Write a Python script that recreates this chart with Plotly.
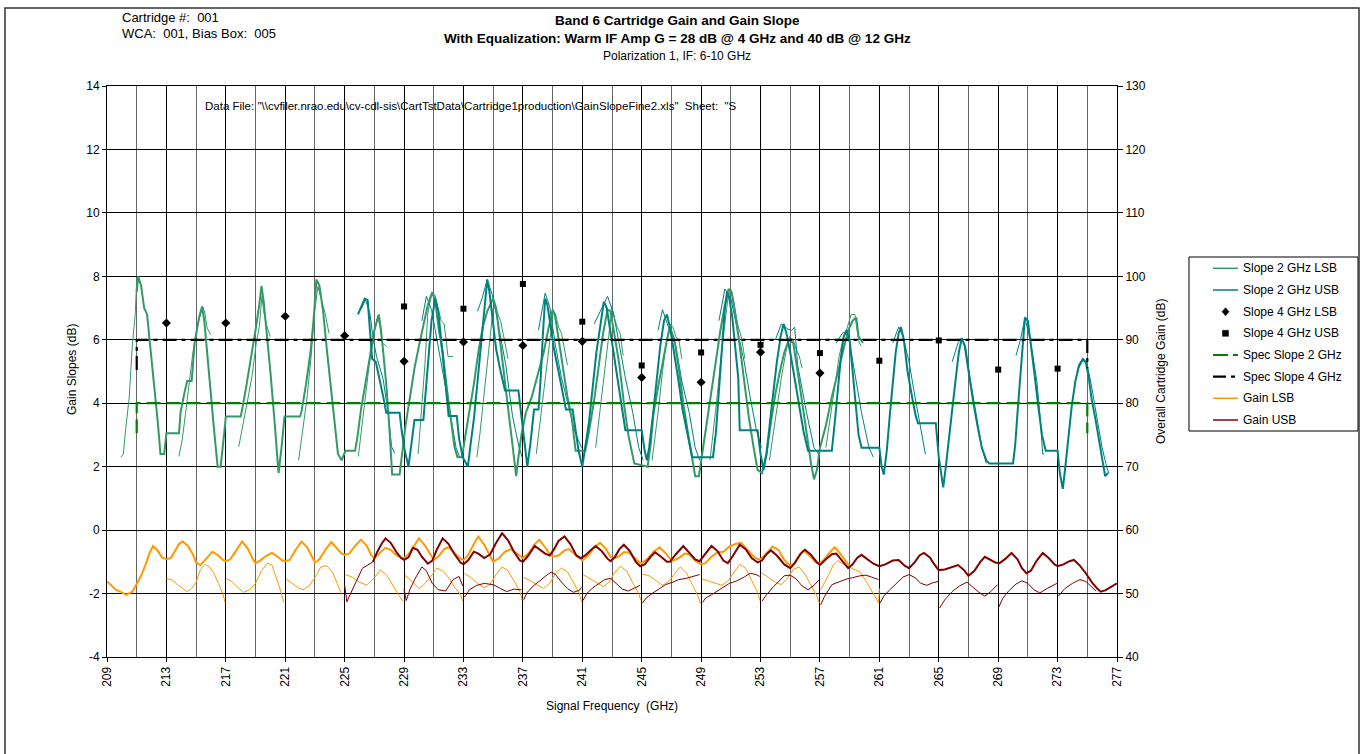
import plotly.graph_objects as go

# ------------------------------------------------------------------
# Axis ticks
# ------------------------------------------------------------------
FREQ_TICKS = list(range(209, 278, 4))
SLOPE_TICKS = list(range(-4, 15, 2))
GAIN_TICKS = list(range(40, 131, 10))

# ------------------------------------------------------------------
# Slope over 4 GHz windows (dB), one value per LO setting
# ------------------------------------------------------------------
SLOPE4_LSB_FREQ = [213, 217, 221, 225, 229, 233, 237, 241, 245, 249, 253, 257]
SLOPE4_LSB = [6.53, 6.53, 6.74, 6.13, 5.32, 5.93, 5.82, 5.95, 4.81, 4.66, 5.61, 4.95]
SLOPE4_USB_FREQ = [229, 233, 237, 241, 245, 249, 253, 257, 261, 265, 269, 273]
SLOPE4_USB = [7.05, 6.98, 7.76, 6.57, 5.19, 5.60, 5.84, 5.58, 5.34, 5.98, 5.06, 5.09]

# Spec limits
SPEC2_FREQ = [211, 211, 275, 275]
SPEC2 = [3.05, 4.0, 4.0, 3.05]
SPEC4_FREQ = [211, 211, 275, 275]
SPEC4 = [5.05, 6.0, 6.0, 5.1]

# ------------------------------------------------------------------
# Slope over 2 GHz windows (dB): (frequency GHz, slope dB)
# ------------------------------------------------------------------
SLOPE2_LSB_MAIN = [[
    (211.0, 7.5), (211.1, 8.0), (211.3, 7.7), (211.5, 7.0), (211.7, 6.8), (211.85, 6.0), (212.1, 4.9),
    (212.4, 3.5), (212.6, 2.4), (212.85, 2.4), (213.0, 3.05), (213.85, 3.05), (213.95, 3.7), (214.2, 4.3),
    (214.4, 4.7), (214.7, 4.7), (214.9, 5.9), (215.2, 6.7), (215.4, 7.05), (215.55, 6.6), (215.8, 5.2),
    (216.0, 4.2), (216.2, 3.2), (216.45, 2.0), (216.65, 2.0), (216.9, 3.1), (217.0, 3.58), (218.0, 3.58),
    (218.1, 3.8), (218.4, 4.6), (218.7, 5.4), (219.0, 6.3), (219.25, 7.1), (219.4, 7.7), (219.55, 7.2),
    (219.8, 6.1), (220.0, 5.0), (220.25, 3.6), (220.45, 2.2), (220.55, 1.8), (220.75, 2.6), (220.95, 3.58),
    (222.0, 3.58), (222.1, 3.75), (222.4, 4.6), (222.7, 5.6), (222.9, 6.6), (223.1, 7.9), (223.3, 7.7),
    (223.55, 6.9), (223.8, 5.7), (224.05, 4.6), (224.3, 3.4), (224.55, 2.4), (224.8, 2.2), (225.05, 2.5),
    (225.7, 2.5), (225.85, 2.9), (226.1, 3.8), (226.4, 4.6), (226.7, 5.5), (227.0, 6.3), (227.3, 6.8),
    (227.45, 6.3), (227.6, 5.6), (227.8, 4.6), (228.0, 3.3), (228.2, 1.75), (228.7, 1.75), (228.9, 2.6),
    (229.1, 3.3), (229.4, 4.2), (229.7, 5.1), (230.0, 5.8), (230.3, 6.5), (230.6, 7.1), (230.9, 7.5),
    (231.1, 7.2), (231.35, 6.3), (231.6, 5.6), (231.9, 4.4), (232.2, 3.3), (232.4, 2.6), (232.6, 2.3),
    (232.9, 2.3), (233.1, 2.9), (233.4, 3.7), (233.7, 4.6), (234.0, 5.6), (234.3, 6.4), (234.6, 6.9),
    (234.8, 7.1), (235.0, 7.3), (235.2, 7.0), (235.4, 6.2), (235.7, 5.0), (236.0, 3.8), (236.3, 2.6),
    (236.55, 1.7), (236.7, 2.3), (236.9, 3.0), (237.2, 3.7), (237.6, 4.2), (238.0, 4.9), (238.4, 5.6),
    (238.7, 6.3), (239.0, 6.95), (239.15, 6.8), (239.4, 6.0), (239.7, 5.0), (240.0, 4.2), (240.3, 3.5),
    (240.55, 2.5), (241.2, 2.5), (241.45, 3.1), (241.8, 4.1), (242.1, 5.2), (242.4, 6.2), (242.7, 6.95),
    (242.9, 6.9), (243.15, 6.2), (243.5, 5.2), (243.8, 4.0), (244.1, 3.0), (244.5, 2.1), (245.4, 2.0),
    (245.6, 2.7), (245.8, 3.7), (246.1, 4.5), (246.4, 5.3), (246.7, 6.0), (246.9, 6.4), (247.2, 6.0),
    (247.5, 5.1), (247.8, 4.0), (248.1, 3.1), (248.4, 2.2), (248.6, 1.7), (248.85, 1.7), (249.1, 2.5),
    (249.4, 3.3), (249.7, 4.3), (250.0, 5.3), (250.3, 6.3), (250.6, 7.1), (250.85, 7.6), (251.05, 7.5),
    (251.3, 6.8), (251.6, 5.8), (251.9, 4.6), (252.2, 3.6), (252.5, 2.7), (252.8, 1.9), (253.1, 1.8),
    (253.4, 2.4), (253.7, 3.4), (254.0, 4.3), (254.3, 5.0), (254.6, 5.6), (254.9, 6.0), (255.2, 5.9),
    (255.5, 5.0), (255.8, 4.0), (256.1, 3.0), (256.4, 2.1), (256.6, 1.6), (256.8, 1.9), (257.0, 2.6),
    (257.4, 3.3), (257.8, 4.2), (258.2, 5.0), (258.6, 5.8), (258.9, 6.3), (259.2, 6.6), (259.45, 6.7),
    (259.6, 6.1), (259.9, 5.9),
]]

SLOPE2_LSB_FINE = [
    [(209.93, 2.3), (210.1, 2.4), (210.26, 3.2), (210.5, 4.2), (210.7, 5.8), (210.9, 6.8), (211.0, 7.9)],
    [(213.84, 2.32), (214.06, 2.84), (214.29, 3.68), (214.56, 4.74), (214.78, 5.58), (215.07, 6.42),
     (215.3, 6.84), (215.45, 7.05), (215.59, 6.84), (215.74, 6.37), (215.97, 6.16)],
    [(217.87, 2.63), (218.14, 3.26), (218.43, 4.0), (218.76, 4.84), (219.05, 5.9), (219.26, 6.42),
     (219.43, 7.37), (219.57, 6.84), (219.77, 6.42), (219.99, 6.1)],
    [(221.9, 2.2), (222.16, 3.05), (222.45, 4.1), (222.74, 5.47), (222.97, 6.84), (223.19, 7.68),
     (223.42, 7.26), (223.68, 6.84), (223.95, 6.2)],
    [(225.92, 2.32), (226.15, 3.16), (226.37, 4.1), (226.64, 5.16), (226.93, 6.1), (227.22, 6.74),
     (227.38, 6.42), (227.53, 5.9), (227.82, 5.79)],
    [(229.95, 2.4), (230.15, 3.6), (230.4, 5.2), (230.6, 6.84), (230.85, 7.42), (231.07, 7.42),
     (231.3, 6.95), (231.5, 6.6), (231.7, 6.5), (231.96, 5.47), (232.3, 5.47)],
    [(233.9, 2.3), (234.1, 3.0), (234.3, 3.9), (234.55, 5.0), (234.8, 6.2), (235.0, 7.0), (235.15, 7.0),
     (235.3, 6.8), (235.5, 6.6), (235.75, 6.0), (236.0, 5.4)],
    [(237.9, 2.4), (238.1, 3.2), (238.35, 4.2), (238.6, 5.3), (238.85, 6.3), (239.05, 6.9), (239.2, 6.8),
     (239.4, 6.4), (239.6, 6.2), (239.85, 5.5), (240.0, 5.2)],
    [(241.9, 2.6), (242.1, 3.4), (242.35, 4.4), (242.6, 5.6), (242.85, 6.6), (243.0, 7.0), (243.15, 6.7),
     (243.35, 6.4), (243.55, 6.2), (243.75, 5.5)],
    [(245.7, 2.2), (245.9, 2.9), (246.15, 3.9), (246.4, 5.0), (246.65, 5.9), (246.9, 6.5), (247.1, 6.4),
     (247.3, 6.1), (247.5, 6.0), (247.7, 5.4)],
    [(249.6, 2.2), (249.85, 3.2), (250.1, 4.3), (250.35, 5.5), (250.6, 6.6), (250.8, 7.3), (251.0, 7.6),
     (251.2, 7.2), (251.45, 6.5), (251.7, 6.1), (251.95, 5.4)],
    [(253.6, 2.2), (253.85, 3.0), (254.1, 3.9), (254.4, 4.8), (254.7, 5.6), (254.95, 6.1), (255.2, 6.0),
     (255.4, 5.7), (255.6, 5.5), (255.8, 5.1)],
    [(257.4, 2.6), (257.7, 3.6), (258.0, 4.6), (258.3, 5.5), (258.6, 6.1), (258.85, 6.4), (259.1, 6.8),
     (259.35, 6.8), (259.5, 6.3), (259.65, 5.9), (259.8, 5.8)],
]

SLOPE2_USB_MAIN = [[
    (225.9, 6.8), (226.1, 7.0), (226.35, 7.3), (226.55, 7.25), (226.7, 6.4), (226.85, 5.4), (227.1, 5.3),
    (227.35, 4.8), (227.6, 4.2), (227.8, 3.7), (228.7, 3.7), (228.85, 3.1), (229.05, 2.5), (229.3, 2.0),
    (229.5, 2.7), (229.7, 3.47), (230.3, 3.47), (230.45, 4.3), (230.65, 5.6), (230.85, 6.6), (231.1, 7.3),
    (231.3, 6.9), (231.5, 6.0), (231.7, 5.0), (231.9, 4.0), (232.0, 3.6), (232.55, 3.6), (232.7, 2.9),
    (232.95, 2.3), (233.3, 2.0), (233.45, 2.6), (233.7, 3.5), (233.95, 4.7), (234.2, 6.0), (234.45, 7.2),
    (234.6, 7.9), (234.75, 7.5), (234.95, 6.6), (235.2, 5.7), (235.5, 5.0), (235.8, 4.4), (236.7, 4.4),
    (236.9, 3.6), (237.1, 2.6), (237.3, 2.0), (237.5, 2.7), (237.75, 3.8), (238.05, 3.8), (238.2, 4.8),
    (238.35, 6.2), (238.5, 7.3), (238.65, 7.1), (238.85, 6.4), (239.1, 5.7), (239.4, 5.0), (239.7, 4.3),
    (239.9, 3.8), (240.35, 3.8), (240.55, 3.2), (240.75, 2.5), (241.0, 2.0), (241.2, 2.6), (241.45, 3.4),
    (241.7, 4.5), (241.95, 5.6), (242.2, 6.4), (242.45, 7.2), (242.65, 7.0), (242.9, 6.2), (243.2, 5.3),
    (243.5, 4.3), (243.75, 3.5), (243.9, 3.15), (245.0, 3.15), (245.2, 2.5), (245.35, 2.2), (245.5, 2.6),
    (245.75, 3.6), (246.0, 4.7), (246.25, 5.8), (246.5, 6.6), (246.7, 6.8), (246.9, 6.4), (247.15, 5.7),
    (247.45, 4.8), (247.75, 3.8), (248.1, 3.0), (248.4, 2.3), (249.8, 2.3), (250.0, 3.1), (250.2, 4.4),
    (250.4, 5.8), (250.6, 7.0), (250.75, 7.5), (250.9, 7.3), (251.1, 6.7), (251.35, 5.6), (251.5, 4.8),
    (251.6, 3.15), (252.8, 3.15), (253.0, 2.4), (253.2, 1.9), (253.4, 2.4), (253.6, 3.3), (253.85, 4.3),
    (254.1, 5.3), (254.35, 6.1), (254.55, 6.5), (254.75, 6.2), (255.0, 5.6), (255.3, 4.8), (255.6, 3.9),
    (255.9, 3.1), (256.2, 2.5), (257.8, 2.5), (258.0, 3.4), (258.2, 4.4), (258.4, 5.4), (258.6, 6.1),
    (258.8, 6.3), (259.0, 6.0), (259.2, 5.1), (259.4, 4.0), (259.6, 3.0), (259.8, 2.6), (261.0, 2.6),
    (261.15, 2.0), (261.3, 1.75), (261.5, 2.5), (261.7, 3.6), (261.9, 4.7), (262.1, 5.6), (262.3, 6.2),
    (262.45, 6.4), (262.65, 6.0), (262.9, 5.0), (263.2, 4.2), (263.45, 3.6), (263.6, 3.37), (264.8, 3.37),
    (265.0, 2.3), (265.2, 1.6), (265.3, 1.35), (265.45, 1.9), (265.65, 2.8), (265.9, 3.8), (266.1, 4.6),
    (266.35, 5.6), (266.55, 6.05), (266.75, 5.8), (267.0, 5.0), (267.3, 4.1), (267.6, 3.3), (267.9, 2.6),
    (268.2, 2.2), (268.4, 2.1), (270.0, 2.1), (270.15, 2.7), (270.3, 3.7), (270.5, 4.9), (270.65, 5.8),
    (270.8, 6.7), (271.0, 6.6), (271.2, 5.9), (271.45, 4.9), (271.7, 3.9), (271.95, 3.0), (272.2, 2.5),
    (273.0, 2.5), (273.15, 1.8), (273.35, 1.3), (273.5, 1.9), (273.7, 2.9), (273.95, 3.9), (274.2, 4.7),
    (274.45, 5.2), (274.7, 5.4), (274.9, 5.3), (275.1, 4.8), (275.3, 4.1), (275.55, 3.5), (275.8, 2.8),
    (276.0, 2.3), (276.2, 1.7), (276.4, 1.8),
]]

SLOPE2_USB_FINE = [
    [(225.9, 6.84), (226.15, 7.0), (226.4, 7.26), (226.7, 6.84), (226.93, 6.0), (227.15, 5.47),
     (227.6, 4.74), (227.93, 3.68), (228.16, 2.63), (228.38, 2.42)],
    [(230.2, 6.6), (230.5, 7.37), (230.85, 6.95), (231.3, 5.8), (231.7, 4.7), (232.1, 3.7), (232.5, 2.6),
     (232.75, 2.3)],
    [(233.95, 6.9), (234.25, 7.3), (234.6, 7.9), (234.95, 7.4), (235.3, 6.6), (235.85, 5.2), (236.3, 3.6),
     (236.75, 2.6), (236.95, 2.3)],
    [(238.05, 6.3), (238.5, 7.47), (238.8, 7.05), (239.2, 5.8), (239.6, 4.8), (240.1, 3.8), (240.5, 3.1),
     (240.95, 2.6)],
    [(241.8, 6.5), (242.3, 7.0), (242.7, 7.37), (243.1, 6.84), (243.5, 5.8), (243.9, 4.8), (244.4, 3.7),
     (244.8, 2.6), (245.1, 2.2)],
    [(246.1, 6.3), (246.4, 6.95), (246.8, 6.4), (247.3, 5.8), (247.7, 4.7), (248.2, 3.7), (248.6, 2.6),
     (248.9, 2.2)],
    [(250.2, 6.6), (250.6, 7.6), (251.0, 7.3), (251.5, 6.2), (251.9, 5.3), (252.3, 4.2), (252.7, 3.2),
     (253.05, 2.6)],
    [(254.0, 6.0), (254.4, 6.5), (254.8, 6.35), (255.1, 6.3), (255.3, 6.4), (255.5, 5.2), (256.1, 3.7),
     (256.6, 2.6), (256.9, 2.4)],
    [(258.1, 5.9), (258.5, 6.2), (258.7, 6.25), (259.0, 5.9), (259.4, 4.8), (259.8, 3.7), (260.3, 2.6),
     (260.6, 2.3)],
    [(261.9, 5.9), (262.3, 6.4), (262.6, 6.1), (263.0, 5.3), (263.4, 4.2), (263.8, 3.1), (264.1, 2.4)],
    [(265.9, 5.3), (266.3, 5.9), (266.5, 6.05), (266.8, 5.8), (267.1, 4.8), (267.5, 3.7), (267.9, 2.6),
     (268.2, 2.1)],
    [(270.2, 5.5), (270.5, 6.0), (270.8, 6.7), (271.2, 5.9), (271.6, 4.7), (271.8, 3.7), (272.0, 2.4),
     (272.1, 2.4)],
    [(274.3, 5.0), (274.7, 5.35), (275.0, 5.2), (275.3, 4.5), (275.7, 3.4), (276.0, 2.6), (276.3, 2.0),
     (276.45, 1.8)],
]

# ------------------------------------------------------------------
# Overall cartridge gain (dB): (frequency GHz, gain dB)
# ------------------------------------------------------------------
GAIN_LSB_MAIN = [[
    (209.0, 51.9), (209.3, 51.2), (209.6, 50.6), (209.9, 50.3), (210.3, 49.8), (210.7, 50.3), (211.0, 51.5),
    (211.3, 52.8), (211.6, 54.6), (211.85, 56.3), (212.1, 57.5), (212.4, 56.8), (212.7, 55.7), (213.0, 55.4),
    (213.3, 55.6), (213.6, 56.9), (213.85, 57.8), (214.1, 58.2), (214.45, 57.5), (214.8, 56.1), (215.0, 54.9),
    (215.3, 54.5), (215.7, 55.6), (216.1, 56.6), (216.5, 56.0), (216.8, 55.3), (217.0, 55.1), (217.3, 55.4),
    (217.7, 56.8), (218.1, 58.2), (218.5, 57.0), (218.8, 55.5), (219.0, 54.8), (219.3, 55.2), (219.7, 55.9),
    (220.1, 56.4), (220.5, 55.8), (220.8, 55.2), (221.0, 55.1), (221.3, 55.3), (221.7, 56.9), (222.1, 58.2),
    (222.5, 57.2), (222.8, 55.8), (223.0, 54.9), (223.3, 55.4), (223.7, 56.9), (224.1, 58.1), (224.5, 57.1),
    (224.8, 56.3), (225.0, 56.1), (225.3, 56.3), (225.7, 57.5), (226.1, 58.5), (226.5, 57.5), (226.8, 56.0),
    (227.0, 55.6), (227.3, 56.3), (227.75, 57.2), (228.1, 56.9), (228.5, 56.0), (228.8, 55.7), (229.0, 55.6),
    (229.3, 56.2), (229.7, 57.6), (230.0, 58.7), (230.4, 57.6), (230.8, 56.0), (231.0, 55.3), (231.3, 55.8),
    (231.7, 57.0), (232.0, 57.3), (232.4, 56.4), (232.8, 55.5), (233.0, 55.3), (233.3, 56.0), (233.7, 57.8),
    (234.0, 59.0), (234.4, 57.7), (234.8, 55.8), (235.0, 55.0), (235.4, 55.6), (235.8, 56.6), (236.2, 57.0),
    (236.6, 56.3), (237.0, 55.6), (237.4, 56.4), (237.8, 57.8), (238.1, 58.5), (238.5, 57.3), (238.8, 56.2),
    (239.0, 55.8), (239.4, 56.0), (239.8, 56.8), (240.1, 57.0), (240.5, 56.2), (240.8, 55.5), (241.0, 55.2),
    (241.4, 56.0), (241.8, 57.3), (242.2, 58.0), (242.6, 57.0), (242.9, 55.8), (243.1, 55.5), (243.5, 55.9),
    (243.8, 56.5), (244.1, 56.5), (244.5, 55.7), (244.8, 55.0), (245.0, 54.8), (245.4, 55.5), (245.8, 56.6),
    (246.2, 57.3), (246.6, 56.4), (246.9, 55.5), (247.1, 55.2), (247.5, 55.6), (247.9, 56.3), (248.2, 56.2),
    (248.6, 55.2), (249.0, 54.6), (249.3, 54.8), (249.7, 55.8), (250.1, 56.5), (250.5, 56.6), (250.9, 57.4),
    (251.3, 57.8), (251.7, 58.0), (252.1, 57.0), (252.5, 55.9), (252.8, 55.4), (253.0, 55.4), (253.4, 56.3),
    (253.8, 57.4), (254.2, 56.9), (254.6, 55.3), (255.0, 54.4), (255.3, 54.8), (255.6, 55.9), (255.9, 56.8),
    (256.3, 56.0), (256.7, 55.0), (257.0, 54.7), (257.3, 55.4), (257.7, 56.6), (258.0, 57.3), (258.3, 56.5),
    (258.7, 55.3), (259.0, 54.3),
]]

GAIN_LSB_FINE = [
    [(213.0, 52.4), (213.4, 52.1), (213.8, 51.3), (214.2, 50.6), (214.4, 50.3), (214.7, 50.8), (215.0, 51.8),
     (215.3, 53.8), (215.6, 54.6), (215.9, 54.2), (216.2, 53.2), (216.5, 51.6), (216.8, 50.0), (216.95, 48.6)],
    [(217.05, 52.4), (217.4, 51.9), (217.8, 51.0), (218.2, 50.2), (218.6, 50.6), (219.0, 51.6), (219.4, 53.6),
     (219.8, 54.8), (220.1, 54.5), (220.4, 52.6), (220.7, 50.4), (220.9, 48.6)],
    [(221.05, 52.3), (221.5, 51.6), (221.9, 50.9), (222.2, 50.6), (222.6, 51.2), (223.0, 52.5), (223.4, 54.2),
     (223.8, 54.4), (224.2, 53.3), (224.5, 51.6), (224.8, 49.8)],
    [(225.05, 53.0), (225.5, 52.6), (226.0, 51.8), (226.5, 51.3), (227.0, 52.5), (227.4, 53.7), (227.8, 53.0),
     (228.2, 51.5), (228.6, 50.0), (228.9, 48.8)],
    [(229.05, 52.9), (229.5, 52.0), (230.0, 50.8), (230.3, 51.3), (230.8, 52.7), (231.2, 54.0), (231.6, 53.6),
     (232.0, 52.5), (232.4, 51.0), (232.8, 49.8), (232.95, 48.8)],
    [(233.05, 53.2), (233.5, 52.5), (234.0, 51.5), (234.4, 50.9), (234.8, 51.5), (235.2, 53.0), (235.6, 54.2),
     (236.0, 53.6), (236.4, 52.0), (236.8, 50.3), (236.95, 49.0)],
    [(237.05, 52.6), (237.5, 52.0), (238.0, 51.2), (238.4, 50.8), (238.8, 51.6), (239.2, 53.2), (239.6, 54.0),
     (240.0, 53.4), (240.4, 51.8), (240.8, 50.0), (240.95, 48.7)],
    [(241.05, 53.0), (241.5, 52.4), (242.0, 51.6), (242.4, 51.1), (242.8, 51.8), (243.2, 53.4), (243.6, 54.3),
     (244.0, 53.5), (244.4, 51.7), (244.8, 50.0), (244.95, 48.9)],
    [(245.05, 53.1), (245.5, 52.8), (246.0, 52.0), (246.4, 51.3), (246.8, 51.9), (247.2, 53.0), (247.6, 54.2),
     (248.0, 53.3), (248.4, 51.5), (248.8, 49.6), (248.95, 48.4)],
    [(249.05, 52.3), (249.5, 52.0), (250.0, 51.6), (250.4, 51.3), (250.8, 52.0), (251.2, 53.4), (251.6, 54.6),
     (252.0, 54.0), (252.4, 52.0), (252.8, 50.2), (252.95, 48.9)],
    [(253.05, 53.3), (253.5, 52.6), (254.0, 51.8), (254.4, 51.4), (254.8, 52.4), (255.2, 53.8), (255.6, 54.2),
     (256.0, 53.0), (256.4, 51.4), (256.8, 49.6), (256.95, 48.5)],
    [(257.05, 50.6), (257.3, 51.6), (257.6, 53.0), (257.9, 54.5), (258.2, 55.2), (258.6, 54.6), (259.0, 54.2),
     (259.4, 53.8), (259.7, 53.4), (260.2, 51.6), (260.7, 49.5), (260.95, 48.5), (261.0, 50.8)],
]

GAIN_USB_MAIN = [[
    (226.9, 55.0), (227.2, 56.6), (227.5, 57.9), (227.75, 58.7), (228.1, 58.0), (228.5, 56.5), (228.8, 55.6),
    (229.0, 55.3), (229.3, 55.7), (229.6, 57.2), (229.9, 56.9), (230.2, 55.8), (230.6, 54.7), (230.9, 55.2),
    (231.2, 56.9), (231.6, 58.7), (232.0, 57.8), (232.4, 56.2), (232.8, 54.9), (233.0, 54.6), (233.3, 55.2),
    (233.7, 56.6), (234.0, 56.3), (234.4, 55.6), (234.8, 56.2), (235.2, 58.0), (235.6, 59.5), (236.0, 58.4),
    (236.4, 56.6), (236.8, 55.2), (237.0, 55.0), (237.3, 55.8), (237.8, 57.5), (238.1, 57.0), (238.5, 56.3),
    (238.8, 56.0), (239.1, 57.0), (239.4, 58.3), (239.8, 59.0), (240.2, 57.8), (240.6, 56.0), (240.9, 55.6),
    (241.2, 56.0), (241.6, 56.9), (241.9, 57.5), (242.3, 56.7), (242.7, 55.5), (242.9, 55.1), (243.2, 55.8),
    (243.5, 57.0), (243.8, 57.7), (244.2, 56.7), (244.6, 55.0), (244.9, 54.3), (245.2, 54.6), (245.6, 55.8),
    (245.9, 56.5), (246.3, 55.8), (246.7, 55.0), (246.9, 55.0), (247.3, 56.2), (247.8, 57.5), (248.2, 56.5),
    (248.6, 55.4), (248.9, 55.1), (249.3, 56.3), (249.7, 57.5), (250.1, 56.7), (250.5, 55.2), (250.8, 54.8),
    (251.1, 55.8), (251.6, 57.7), (252.0, 57.0), (252.4, 55.6), (252.8, 54.9), (253.1, 55.2), (253.4, 56.2),
    (253.7, 56.8), (254.1, 56.0), (254.6, 54.6), (255.0, 54.0), (255.3, 54.8), (255.7, 56.3), (256.0, 56.9),
    (256.4, 56.1), (256.8, 54.9), (257.0, 54.5), (257.4, 55.4), (257.8, 56.2), (258.1, 56.3), (258.5, 55.2),
    (258.9, 54.0), (259.2, 54.6), (259.5, 55.6), (259.8, 56.1), (260.2, 55.4), (260.6, 54.7), (261.0, 54.3),
    (261.4, 54.6), (261.9, 55.2), (262.3, 55.3), (262.7, 54.4), (263.0, 54.0), (263.4, 55.0), (263.7, 56.0),
    (264.0, 56.4), (264.4, 55.7), (264.7, 54.6), (265.0, 53.7), (265.4, 53.8), (265.8, 54.1), (266.3, 54.5),
    (266.7, 53.7), (267.0, 52.8), (267.4, 53.6), (267.8, 55.0), (268.1, 55.8), (268.5, 55.3), (268.8, 54.9),
    (269.1, 54.8), (269.5, 55.5), (269.9, 56.4), (270.3, 55.4), (270.6, 54.0), (270.9, 53.2), (271.2, 53.6),
    (271.6, 55.2), (272.0, 56.4), (272.4, 55.6), (272.8, 54.6), (273.0, 54.3), (273.4, 54.6), (273.8, 55.1),
    (274.1, 55.3), (274.5, 54.4), (274.9, 53.2), (275.3, 51.8), (275.7, 50.7), (275.9, 50.3), (276.2, 50.5),
    (276.6, 51.0), (277.0, 51.6),
]]

GAIN_USB_FINE = [
    [(225.0, 51.3), (225.15, 48.7), (225.4, 50.0), (225.8, 52.0), (226.2, 54.0), (226.5, 54.4), (226.9, 55.0)],
    [(229.0, 50.6), (229.15, 48.9), (229.4, 50.7), (229.8, 52.6), (230.2, 54.2), (230.5, 53.6), (230.9, 51.6),
     (231.3, 50.6), (231.8, 50.4), (232.3, 52.2), (232.7, 52.7), (232.95, 51.2)],
    [(233.05, 49.6), (233.1, 49.5), (233.4, 50.6), (233.9, 51.3), (234.4, 51.6), (235.0, 51.4), (235.5, 50.8),
     (235.9, 50.3), (236.4, 50.7), (236.9, 50.6)],
    [(237.05, 49.0), (237.3, 50.2), (237.7, 51.2), (238.1, 52.0), (238.5, 52.7), (238.9, 53.4), (239.2, 53.0),
     (239.6, 51.8), (240.0, 50.8), (240.4, 50.2), (240.8, 50.5), (240.95, 51.0)],
    [(241.05, 48.9), (241.3, 50.0), (241.7, 50.9), (242.1, 51.6), (242.5, 52.2), (242.9, 52.4), (243.3, 51.5),
     (243.7, 50.7), (244.1, 50.4), (244.5, 50.9), (244.9, 51.3)],
    [(245.05, 48.5), (245.3, 49.3), (245.7, 50.0), (246.2, 50.8), (246.6, 51.4), (247.1, 51.8), (247.5, 52.2),
     (248.0, 52.4), (248.4, 52.7), (248.9, 53.0)],
    [(249.1, 48.6), (249.3, 49.3), (249.7, 49.8), (250.0, 50.3), (250.5, 51.0), (250.9, 51.6), (251.4, 52.0),
     (251.9, 52.6), (252.3, 53.2), (252.7, 53.0), (252.95, 52.7)],
    [(253.1, 48.8), (253.4, 49.8), (253.8, 50.9), (254.2, 51.8), (254.6, 52.8), (255.0, 52.9), (255.4, 52.3),
     (255.8, 51.2), (256.2, 50.6), (256.6, 51.3), (256.95, 52.2)],
    [(257.05, 48.2), (257.3, 49.5), (257.8, 51.4), (258.3, 51.9), (258.8, 52.3), (259.2, 52.5), (259.7, 52.8),
     (260.1, 52.9), (260.6, 52.5), (260.95, 52.2)],
    [(261.05, 48.5), (261.3, 49.6), (261.7, 50.6), (262.2, 51.8), (262.6, 52.6), (263.0, 53.0), (263.4, 52.5),
     (263.8, 51.6), (264.2, 51.3), (264.6, 51.7), (264.95, 51.9)],
    [(265.05, 47.7), (265.4, 49.0), (265.9, 50.3), (266.4, 51.2), (266.9, 51.8), (267.3, 51.0), (267.7, 50.2),
     (268.1, 49.6), (268.5, 50.3), (268.95, 51.4)],
    [(269.05, 47.9), (269.3, 49.2), (269.7, 50.4), (270.2, 51.5), (270.6, 52.0), (271.0, 51.6), (271.4, 50.6),
     (271.8, 50.1), (272.3, 50.8), (272.7, 51.3), (272.95, 51.6)],
    [(273.05, 49.6), (273.5, 50.8), (274.0, 51.6), (274.5, 52.2), (274.9, 51.9), (275.3, 51.0), (275.6, 50.4)],
]

# ------------------------------------------------------------------
# Styling
# ------------------------------------------------------------------
FONT = "Liberation Sans, Arial, Helvetica, sans-serif"
C_LSB_SLOPE = "#339966"
C_USB_SLOPE = "#008080"
C_SPEC2 = "#008000"
C_SPEC4 = "#000000"
C_GAIN_LSB = "#FF9900"
C_GAIN_USB = "#800000"
DASH_SPEC2 = "14px,6px"
DASH_SPEC4 = "14px,5px,4px,5px"

# plot-area geometry in page pixels
L, T, W, H = 107, 86, 1010, 571
FIG_W, FIG_H = 1362, 754


def px(x):
    return (x - L) / W


def py(y):
    return (T + H - y) / H


def flatten(segments):
    xs, ys = [], []
    for seg in segments:
        for f, v in seg:
            xs.append(f)
            ys.append(v)
        xs.append(None)
        ys.append(None)
    return xs, ys


def tick_label(v):
    # plain hyphen-minus for negative values
    return str(v).replace("\u2212", "-")


fig = go.Figure()


def add_line(segments, color, width, name, yaxis="y"):
    xs, ys = flatten(segments)
    fig.add_trace(go.Scatter(x=xs, y=ys, mode="lines", name=name, yaxis=yaxis,
                             line=dict(color=color, width=width), connectgaps=False,
                             hoverinfo="skip", showlegend=False))


# gain curves (right axis)
add_line(GAIN_LSB_FINE, C_GAIN_LSB, 1, "Gain LSB", "y2")
add_line(GAIN_USB_FINE, C_GAIN_USB, 1, "Gain USB", "y2")
add_line(GAIN_LSB_MAIN, C_GAIN_LSB, 2, "Gain LSB", "y2")
add_line(GAIN_USB_MAIN, C_GAIN_USB, 2, "Gain USB", "y2")

# 2 GHz slope curves (left axis)
add_line(SLOPE2_LSB_FINE, C_LSB_SLOPE, 1, "Slope 2 GHz LSB")
add_line(SLOPE2_USB_FINE, C_USB_SLOPE, 1, "Slope 2 GHz USB")
add_line(SLOPE2_LSB_MAIN, C_LSB_SLOPE, 2, "Slope 2 GHz LSB")
add_line(SLOPE2_USB_MAIN, C_USB_SLOPE, 2, "Slope 2 GHz USB")

# spec limits
fig.add_trace(go.Scatter(x=SPEC2_FREQ, y=SPEC2, mode="lines", name="Spec Slope 2 GHz",
                         line=dict(color=C_SPEC2, width=2.2, dash=DASH_SPEC2),
                         hoverinfo="skip", showlegend=False))
fig.add_trace(go.Scatter(x=SPEC4_FREQ, y=SPEC4, mode="lines", name="Spec Slope 4 GHz",
                         line=dict(color=C_SPEC4, width=2.2, dash=DASH_SPEC4),
                         hoverinfo="skip", showlegend=False))

# 4 GHz slope points
fig.add_trace(go.Scatter(x=SLOPE4_LSB_FREQ, y=SLOPE4_LSB, mode="markers", name="Slope 4 GHz LSB",
                         marker=dict(symbol="diamond", size=7, color="black"),
                         showlegend=False))
fig.add_trace(go.Scatter(x=SLOPE4_USB_FREQ, y=SLOPE4_USB, mode="markers", name="Slope 4 GHz USB",
                         marker=dict(symbol="square", size=6, color="black"),
                         showlegend=False))

# ------------------------------------------------------------------
# Axes
# ------------------------------------------------------------------
fig.update_layout(
    width=FIG_W, height=FIG_H,
    margin=dict(l=L, r=FIG_W - L - W, t=T, b=FIG_H - T - H, pad=0),
    paper_bgcolor="white", plot_bgcolor="white",
    font=dict(family=FONT, size=12, color="black"),
    showlegend=False,
    xaxis=dict(
        range=[209, 277], tickmode="array", tickvals=FREQ_TICKS, ticktext=[str(t) for t in FREQ_TICKS],
        tickangle=-90, ticks="outside", ticklen=4, tickcolor="black", tickwidth=1,
        showgrid=True, gridcolor="black", gridwidth=1,
        minor=dict(tickmode="linear", tick0=209, dtick=2, showgrid=True, gridcolor="#666666",
                   gridwidth=1, ticks=""),
        showline=True, linecolor="black", linewidth=1, mirror=True, zeroline=False,
        tickfont=dict(size=12, family=FONT), automargin=False,
    ),
    yaxis=dict(
        range=[-4, 14], tickmode="array", tickvals=SLOPE_TICKS,
        ticktext=[tick_label(v) for v in SLOPE_TICKS], ticks="outside", ticklen=4,
        tickcolor="black", showgrid=True, gridcolor="black", gridwidth=1,
        showline=True, linecolor="black", linewidth=1, zeroline=False,
        tickfont=dict(size=12, family=FONT), automargin=False,
    ),
    yaxis2=dict(
        range=[40, 130], tickmode="array", tickvals=GAIN_TICKS, ticktext=[str(v) for v in GAIN_TICKS],
        overlaying="y", side="right",
        ticks="outside", ticklen=5, tickcolor="black", showgrid=False,
        showline=True, linecolor="black", linewidth=1, zeroline=False,
        tickfont=dict(size=12, family=FONT), automargin=False,
    ),
)

# ------------------------------------------------------------------
# Text
# ------------------------------------------------------------------
ann = []


def text(x, y, s, size=12, bold=False, xanchor="left", angle=0):
    ann.append(dict(x=px(x), y=py(y), xref="paper", yref="paper", text=(f"<b>{s}</b>" if bold else s),
                    showarrow=False, xanchor=xanchor, yanchor="middle", textangle=angle,
                    font=dict(family=FONT, size=size, color="black")))


NB = "\u00a0"
text(120, 17, f"Cartridge #:{NB}{NB}001", 13)
text(120, 34, f"WCA:{NB}{NB}001, Bias Box:{NB}{NB}005", 13)
text(677, 20, "Band 6 Cartridge Gain and Gain Slope", 13.5, bold=True, xanchor="center")
text(677, 38, "With Equalization: Warm IF Amp G = 28 dB @ 4 GHz and 40 dB @ 12 GHz", 13.5, bold=True,
     xanchor="center")
text(677, 56, "Polarization 1, IF: 6-10 GHz", 12, xanchor="center")
text(203, 106, 'Data File: "\\\\cvfiler.nrao.edu\\cv-cdl-sis\\CartTstData\\Cartridge1production'
               f'\\GainSlopeFine2.xls"{NB}{NB}Sheet:{NB}{NB}"S', 11.5)
text(612, 706, f"Signal Frequency{NB}{NB}(GHz)", 12, xanchor="center")
text(72, 370, "Gain Slopes (dB)", 12, xanchor="center", angle=-90)
text(1161, 372, "Overall Cartridge Gain (dB)", 12, xanchor="center", angle=-90)

# legend block
LEG_X0, LEG_X1, LEG_Y0, LEG_Y1 = 1189, 1358, 257, 431
LEG_ROWS = [268.3, 290.0, 311.7, 333.3, 355.0, 376.7, 398.3, 420.0]
LEG_LABELS = ["Slope 2 GHz LSB", "Slope 2 GHz USB", "Slope 4 GHz LSB", "Slope 4 GHz USB",
              "Spec Slope 2 GHz", "Spec Slope 4 GHz", "Gain LSB", "Gain USB"]
shapes = []
shapes.append(dict(type="rect", xref="paper", yref="paper", x0=px(LEG_X0), x1=px(LEG_X1),
                   y0=py(LEG_Y1), y1=py(LEG_Y0), line=dict(color="black", width=1), fillcolor="white",
                   layer="above"))
line_styles = {0: (C_LSB_SLOPE, "solid", 1.5), 1: (C_USB_SLOPE, "solid", 1.5),
               4: (C_SPEC2, "15px,5px", 2.2), 5: (C_SPEC4, "13px,5px,4px,5px", 2.2),
               6: (C_GAIN_LSB, "solid", 1.5), 7: (C_GAIN_USB, "solid", 1.5)}
for i, (yy, lab) in enumerate(zip(LEG_ROWS, LEG_LABELS)):
    if i in line_styles:
        c, d, w = line_styles[i]
        shapes.append(dict(type="line", xref="paper", yref="paper", x0=px(1213), x1=px(1238),
                           y0=py(yy), y1=py(yy), line=dict(color=c, width=w, dash=d), layer="above"))
    text(1241, yy, lab, 12)

# legend marker glyphs
cx = 1225.5
yd = LEG_ROWS[2]
shapes.append(dict(type="path", xref="paper", yref="paper", layer="above",
                   path=(f"M{px(cx)},{py(yd - 4)} L{px(cx + 3.5)},{py(yd)} L{px(cx)},{py(yd + 4)} "
                         f"L{px(cx - 3.5)},{py(yd)} Z"),
                   fillcolor="black", line=dict(color="black", width=0.5)))
ys_ = LEG_ROWS[3]
shapes.append(dict(type="rect", xref="paper", yref="paper", layer="above",
                   x0=px(cx - 3), x1=px(cx + 3), y0=py(ys_ + 3), y1=py(ys_ - 3),
                   fillcolor="black", line=dict(color="black", width=0.5)))

# outer chart frame
shapes.append(dict(type="rect", xref="paper", yref="paper", x0=px(5), x1=px(1359), y0=py(770), y1=py(8),
                   line=dict(color="#333333", width=1.5), fillcolor="rgba(0,0,0,0)", layer="above"))

fig.update_layout(annotations=ann, shapes=shapes)

fig.write_html("out.html")
